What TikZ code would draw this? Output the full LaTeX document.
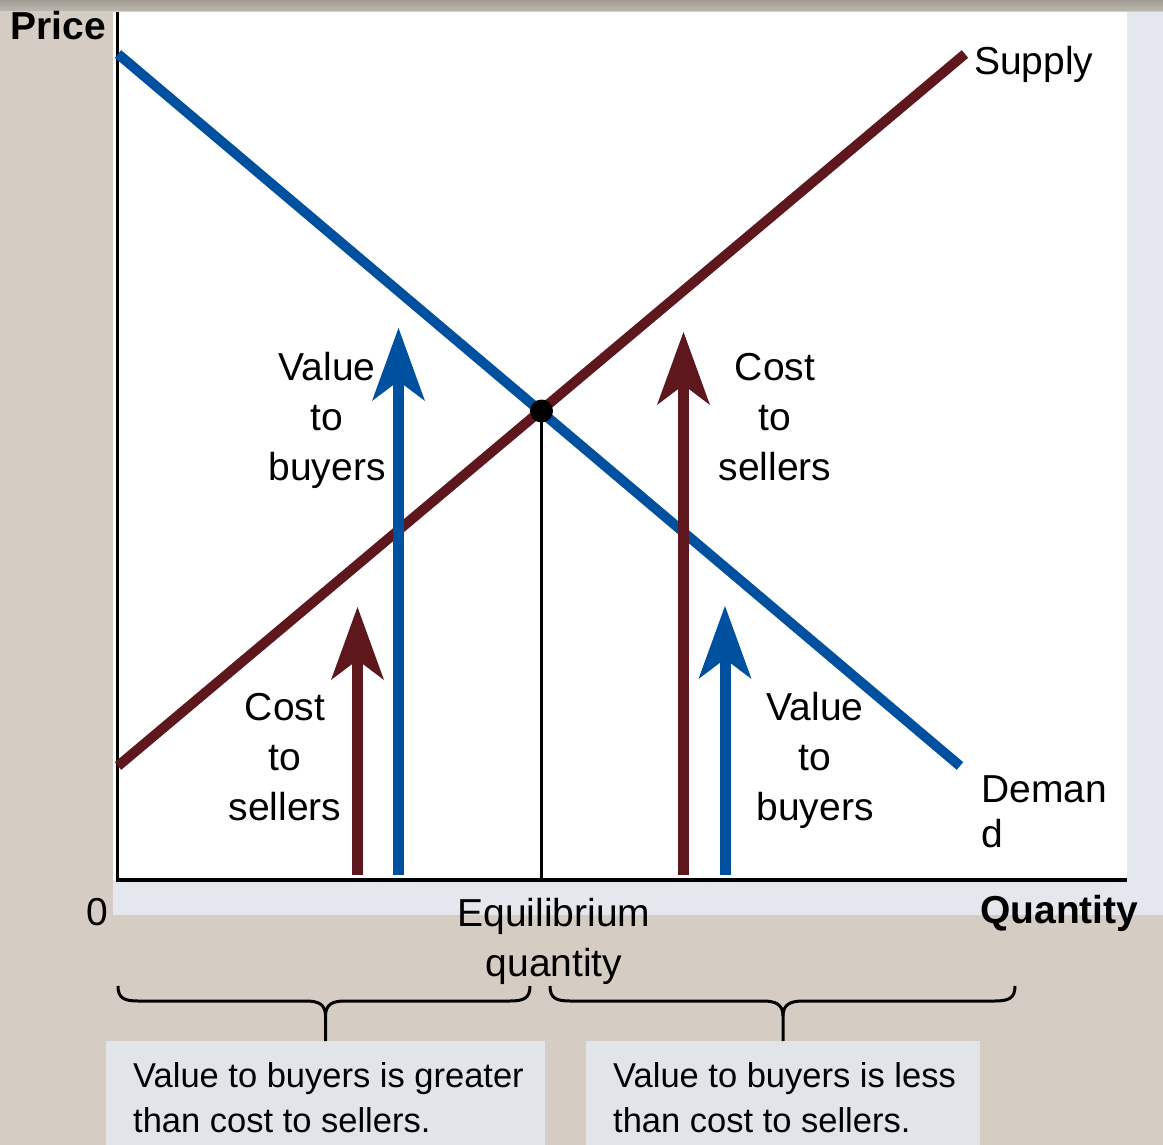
\documentclass[tikz,border=0pt]{standalone}
\usepackage{fontspec}
\setmainfont{Liberation Sans}
\usetikzlibrary{arrows.meta}
\definecolor{bgc}{HTML}{D5CDC3}
\definecolor{stripc}{HTML}{BDB8AE}
\definecolor{shadec}{HTML}{E4E7ED}
\definecolor{boxc}{HTML}{E1E4E9}
\definecolor{dblue}{HTML}{0050A0}
\definecolor{dred}{HTML}{5E171D}
\newcommand\linesC[2]{\vtop{\baselineskip=#1\relax\halign{\hfil##\hfil\cr#2\crcr}}}
\newcommand\linesL[2]{\vtop{\baselineskip=#1\relax\halign{##\hfil\cr#2\crcr}}}
\begin{document}
\begin{tikzpicture}[x=1pt,y=-1pt,
  lbl/.style={inner sep=0pt, font=\fontsize{39}{47}\selectfont},
  bold/.style={inner sep=0pt, font=\fontsize{39}{47}\selectfont\bfseries},
  boxtext/.style={inner sep=0pt, font=\fontsize{34.5}{45}\selectfont},
  boxst/.style={fill=boxc, inner sep=0pt, anchor=north west},
  curve/.style={line width=10pt},
  axis/.style={line width=3.5pt, black},
  brace/.style={line width=3pt, black},
  redarr/.style={draw=dred, line width=11pt, -{Stealth[length=73pt,width=53pt,inset=20pt,line width=0pt]}},
  bluearr/.style={draw=dblue, line width=11pt, -{Stealth[length=73pt,width=53pt,inset=20pt,line width=0pt]}}]
\useasboundingbox (0,0) rectangle (1163,1145);
% background
\fill[bgc] (0,0) rectangle (1163,1145);
\shade[top color=stripc!85!black, bottom color=stripc] (0,0) rectangle (1163,11);
\fill[shadec] (113,12) rectangle (1163,915);
\fill[white] (113,12) rectangle (1127,880);
% axes
\coordinate (origin) at (117.5,880);
\coordinate (ytop) at (117.5,12);
\coordinate (xend) at (1127,880);
\draw[axis] (ytop) -- (origin) -- (xend);
% demand and supply
\coordinate (d0) at (118,54);
\coordinate (d1) at (960,766);
\coordinate (s0) at (118,766);
\coordinate (s1) at (965,54);
\draw[curve, dblue] (d0) -- (d1);
\draw[curve, dred] (s0) -- (s1);
% arrows
\coordinate (a1b) at (357.5,875); \coordinate (a1t) at (357.5,607);
\coordinate (a2b) at (398.5,875); \coordinate (a2t) at (398.5,328);
\coordinate (a3b) at (683.5,875); \coordinate (a3t) at (683.5,332);
\coordinate (a4b) at (725,875);   \coordinate (a4t) at (725,606);
\draw[redarr] (a1b) -- (a1t);
\draw[bluearr] (a2b) -- (a2t);
\draw[redarr] (a3b) -- (a3t);
\draw[bluearr] (a4b) -- (a4t);
% equilibrium
\node[circle, fill=black, minimum size=23pt, inner sep=0pt] (eq) at (541.5,411) {};
\coordinate (eqbase) at (541.5,880);
\draw[line width=3pt] (eq.center) -- (eqbase);
% labels
\node[bold, anchor=base east] (price) at (106,40) {Price};
\node[bold, anchor=base west] (qty) at (980,923) {Quantity};
\node[lbl] (zero) at (97,912) {0};
\node[lbl, anchor=base west] (supply) at (974,75) {Supply};
\node[lbl, anchor=base west] (demand) at (981,802) {\linesL{45pt}{Deman\cr d}};
\node[lbl, anchor=base] (vb1) at (327,380) {\linesC{50pt}{Value\cr to\cr buyers}};
\node[lbl, anchor=base] (cs1) at (775,380) {\linesC{50pt}{Cost\cr to\cr sellers}};
\node[lbl, anchor=base] (cs2) at (285,720) {\linesC{50pt}{Cost\cr to\cr sellers}};
\node[lbl, anchor=base] (vb2) at (815,720) {\linesC{50pt}{Value\cr to\cr buyers}};
\node[lbl, anchor=base] (eql) at (554,926) {\linesC{50pt}{Equilibrium\cr quantity}};
% boxes
\node[boxst, minimum width=439pt, minimum height=110pt] (lbox) at (106,1041) {};
\node[boxst, minimum width=394pt, minimum height=110pt] (rbox) at (586,1041) {};
\node[boxtext, anchor=base west] (ltext) at (133,1087) {\linesL{45pt}{Value to buyers is greater\cr than cost to sellers.}};
\node[boxtext, anchor=base west] (rtext) at (613,1087) {\linesL{45pt}{Value to buyers is less\cr than cost to sellers.}};
% braces
\draw[brace] (118,986) .. controls (118,998) and (124,1001) .. (138,1001) -- (306,1001)
  .. controls (318,1001) and (325.5,1004) .. (325.5,1016) -- (lbox.north);
\draw[brace] (530,986) .. controls (530,998) and (524,1001) .. (510,1001) -- (345,1001)
  .. controls (333,1001) and (325.5,1004) .. (325.5,1016);
\draw[brace] (550,986) .. controls (550,998) and (556,1001) .. (570,1001) -- (763,1001)
  .. controls (775,1001) and (783,1004) .. (783,1016) -- (rbox.north);
\draw[brace] (1015,986) .. controls (1015,998) and (1009,1001) .. (995,1001) -- (803,1001)
  .. controls (791,1001) and (783,1004) .. (783,1016);
\end{tikzpicture}
\end{document}
